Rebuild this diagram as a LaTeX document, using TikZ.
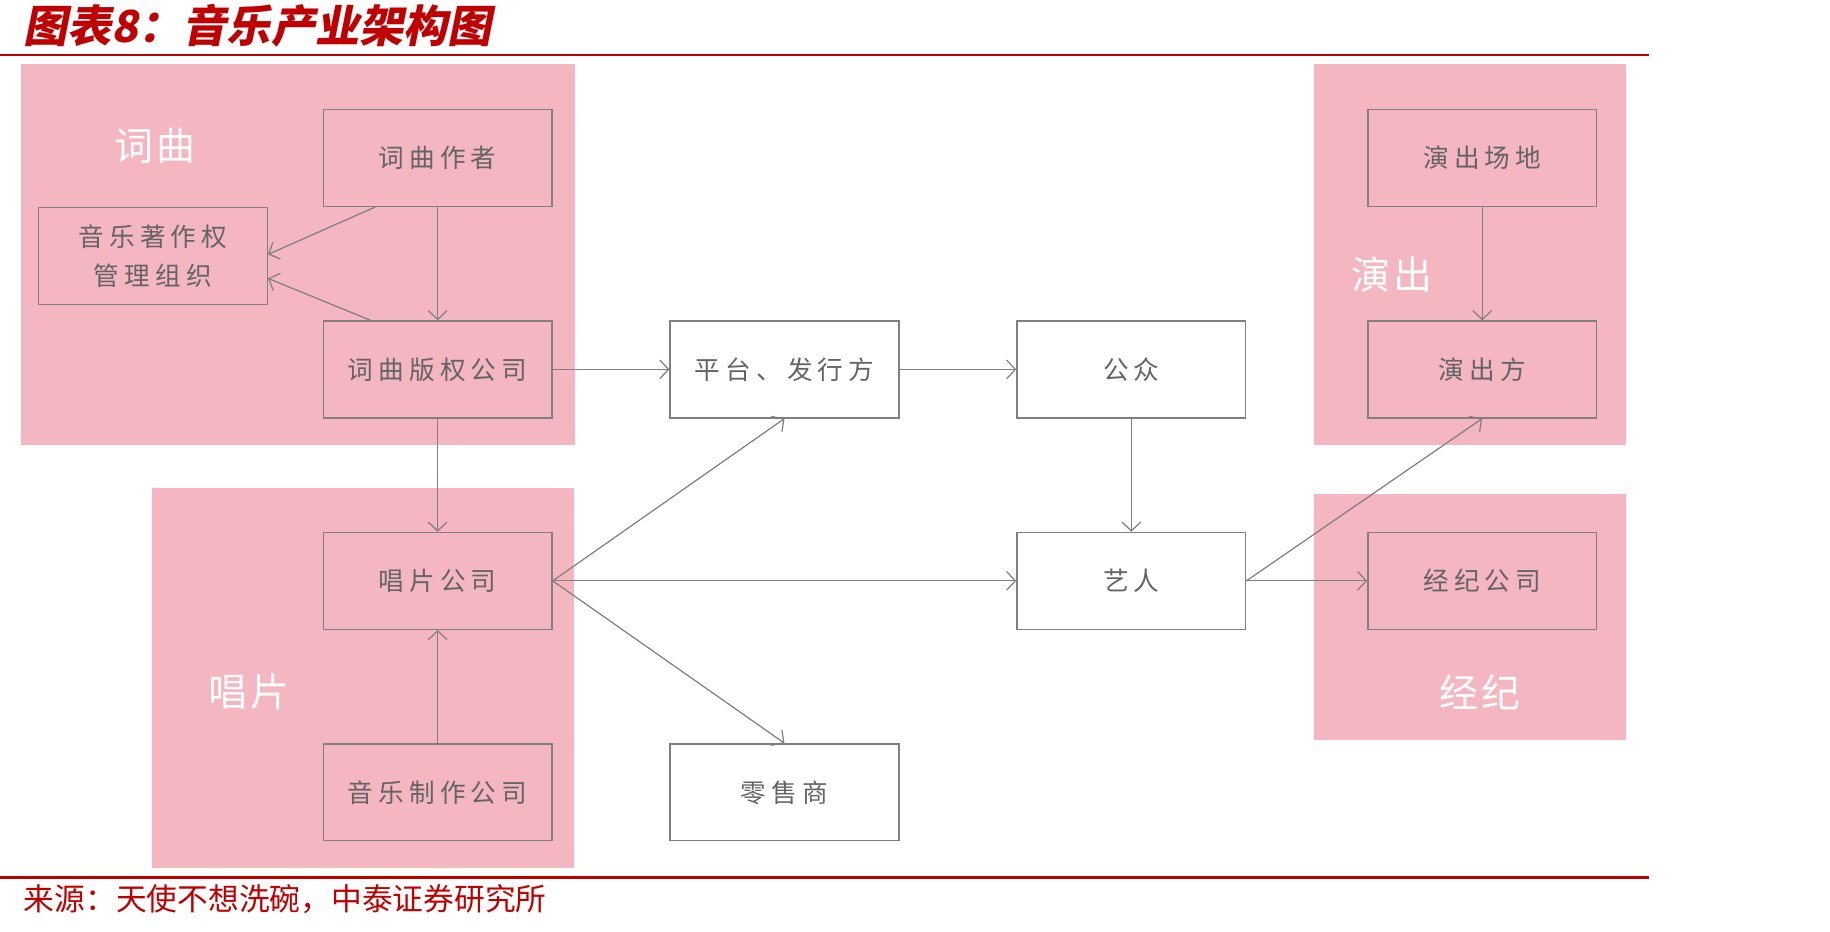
\documentclass[tikz,border=0pt]{standalone}
\usepackage{fontspec}
\setmainfont{Noto Sans CJK SC}
\newfontfamily\cjkbox[LetterSpace=20]{Noto Sans CJK SC}
\newfontfamily\cjklabel[LetterSpace=8]{Noto Sans CJK SC}
\newfontfamily\cjktitle[FakeSlant=0.2]{Noto Sans CJK SC}
\usetikzlibrary{arrows.meta,positioning}
\definecolor{musicpink}{RGB}{244,182,192}
\definecolor{musicred}{RGB}{192,0,0}
\definecolor{boxgray}{RGB}{128,128,128}
\definecolor{textgray}{RGB}{100,100,100}

\begin{document}
\begin{tikzpicture}[x=0.02cm,y=-0.02cm,
  node distance=1.94cm and 2.0cm,
  unit/.style={rectangle,draw=boxgray,line width=0.7pt,minimum width=3.92cm,minimum height=1.66cm,inner sep=0pt,align=center,text=textgray,font=\cjkbox\fontsize{12.5}{19}\selectfont},
  tag/.style={text=white,font=\cjklabel\fontsize{19}{22}\selectfont},
  arrow/.style={-{Straight Barb[length=1.5mm,width=3.2mm]},draw=boxgray,line width=0.6pt}]
  \useasboundingbox (0,0) rectangle (1568,798);
  % panels
  \fill[musicpink] (18,55) rectangle (493,381);
  \fill[musicpink] (130,418) rectangle (492,744);
  \fill[musicpink] (1126,55) rectangle (1393,381);
  \fill[musicpink] (1126,423) rectangle (1393,634);
  \node[tag] (lyricstag) at (133,125) {词曲};
  \node[tag] (recordtag) at (213,593) {唱片};
  \node[tag] (showtag) at (1193,235) {演出};
  \node[tag] (agencytag) at (1268,593) {经纪};
  % boxes
  \node[unit] (copyright) at (375,316.5) {词曲版权公司};
  \node[unit,above=of copyright] (writer) {词曲作者};
  \node[unit,below=of copyright] (record) {唱片公司};
  \node[unit,below=of record] (studio) {音乐制作公司};
  \node[unit] (society) at (131,219.5) {音乐著作权\\管理组织};
  \node[unit,right=of copyright] (platform) {平台、发行方};
  \node[unit,right=of platform] (public) {公众};
  \node[unit,below=of public] (artist) {艺人};
  \node[unit,right=of studio] (retail) {零售商};
  \node[unit,right=2.07cm of artist] (agency) {经纪公司};
  \node[unit,above=of agency] (show) {演出方};
  \node[unit,above=of show] (venue) {演出场地};
  % arrows
  \draw[arrow] (writer.south) -- (copyright.north);
  \draw[arrow] ([xshift=0.9cm]writer.south west) -- ([yshift=0.03cm]society.east);
  \draw[arrow] ([xshift=0.82cm]copyright.north west) -- ([yshift=-0.38cm]society.east);
  \draw[arrow] (copyright.east) -- (platform.west);
  \draw[arrow] (copyright.south) -- (record.north);
  \draw[arrow] (studio.north) -- (record.south);
  \draw[arrow] (record.east) -- (platform.south);
  \draw[arrow] (record.east) -- (artist.west);
  \draw[arrow] (record.east) -- (retail.north);
  \draw[arrow] (platform.east) -- (public.west);
  \draw[arrow] (public.south) -- (artist.north);
  \draw[arrow] (artist.east) -- (show.south);
  \draw[arrow] (artist.east) -- (agency.west);
  \draw[arrow] (venue.south) -- (show.north);
  % title and source
  \node[anchor=west,inner sep=0pt,text=musicred,font=\cjktitle\bfseries\fontsize{21.5}{24}\selectfont] (title) at (20,22) {图表8：音乐产业架构图};
  \draw[musicred,line width=1.2pt] (0,47) -- (1413,47);
  \draw[musicred,line width=1.2pt] (0,752) -- (1413,752);
  \node[anchor=west,inner sep=0pt,text=musicred,font=\fontsize{15}{18}\selectfont] (source) at (20,770) {来源：天使不想洗碗，中泰证券研究所};
\end{tikzpicture}
\end{document}
